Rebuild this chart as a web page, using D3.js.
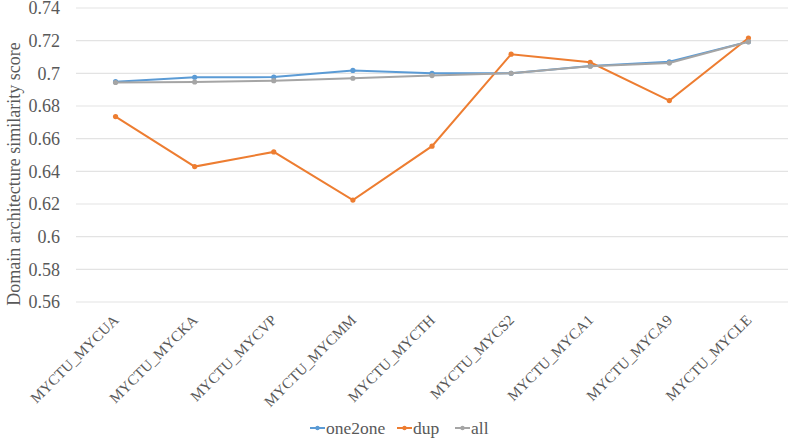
<!DOCTYPE html>
<html>
<head>
<meta charset="utf-8">
<script src="https://cdn.jsdelivr.net/npm/d3@7"></script>
<style>
  body { margin: 0; background: #fff; }
  svg text { font-family: "Liberation Serif", "Times New Roman", serif; fill: #595959; }
</style>
</head>
<body>
<div id="chart"></div>
<script>
var categories = ["MYCTU_MYCUA", "MYCTU_MYCKA", "MYCTU_MYCVP", "MYCTU_MYCMM", "MYCTU_MYCTH",
    "MYCTU_MYCS2", "MYCTU_MYCA1", "MYCTU_MYCA9", "MYCTU_MYCLE"];
var one2one = [0.6949, 0.6976, 0.6977, 0.7018, 0.7000, 0.7000, 0.7045, 0.7071, 0.7194];
var dup = [0.6735, 0.6429, 0.6519, 0.6224, 0.6554, 0.7117, 0.7068, 0.6833, 0.7216];
var all = [0.6944, 0.6947, 0.6955, 0.6970, 0.6986, 0.7000, 0.7044, 0.7063, 0.7193];
var yTicks = [0.56, 0.58, 0.6, 0.62, 0.64, 0.66, 0.68, 0.7, 0.72, 0.74];

var series = [
    { name: "one2one", values: one2one, color: "#5B9BD5" },
    { name: "dup", values: dup, color: "#ED7D31" },
    { name: "all", values: all, color: "#A5A5A5" }
];

var width = 790, height = 441;
var plotLeft = 76, plotRight = 788, plotTop = 8, plotBottom = 302;

var svg = d3.select("#chart").append("svg")
    .attr("width", width)
    .attr("height", height);

var x = d3.scaleBand().domain(categories).range([plotLeft, plotRight]);
var y = d3.scaleLinear().domain([0.56, 0.74]).range([plotBottom, plotTop]);

// gridlines
svg.append("g").selectAll("line")
    .data(yTicks)
    .enter().append("line")
    .attr("x1", plotLeft).attr("x2", plotRight)
    .attr("y1", function(d) { return y(d); })
    .attr("y2", function(d) { return y(d); })
    .attr("stroke", "#e3e3e3")
    .attr("stroke-width", 1.2);

// y tick labels
svg.append("g").selectAll("text")
    .data(yTicks)
    .enter().append("text")
    .attr("x", 60)
    .attr("y", function(d) { return y(d); })
    .attr("dy", "0.35em")
    .attr("text-anchor", "end")
    .style("font-size", "18px")
    .text(function(d) { return d3.format("")(d); });

// y axis title
svg.append("text")
    .attr("transform", "translate(14,174)rotate(-90)")
    .attr("text-anchor", "middle")
    .attr("dy", "0.35em")
    .style("font-size", "18px")
    .text("Domain architecture similarity score");

// x labels
svg.append("g").selectAll("text")
    .data(categories)
    .enter().append("text")
    .attr("transform", function(d) {
        return "translate(" + (x(d) + x.bandwidth() / 2 + 4) + "," + (plotBottom + 19) + ")rotate(-45)";
    })
    .attr("text-anchor", "end")
    .style("font-size", "15px")
    .text(function(d) { return d; });

var line = d3.line()
    .x(function(d, i) { return x(categories[i]) + x.bandwidth() / 2; })
    .y(function(d) { return y(d); });

series.forEach(function(s) {
    var g = svg.append("g");
    g.append("path")
        .attr("d", line(s.values))
        .attr("fill", "none")
        .attr("stroke", s.color)
        .attr("stroke-width", 2);
    g.selectAll("circle")
        .data(s.values)
        .enter().append("circle")
        .attr("cx", function(d, i) { return x(categories[i]) + x.bandwidth() / 2; })
        .attr("cy", function(d) { return y(d); })
        .attr("r", 2.6)
        .attr("fill", s.color);
});

// legend
var legendPos = [310, 397, 455];
var legend = svg.append("g").selectAll("g")
    .data(series)
    .enter().append("g")
    .attr("transform", function(d, i) { return "translate(" + legendPos[i] + ",428)"; });
legend.append("line")
    .attr("x1", 0).attr("x2", 15)
    .attr("stroke", function(d) { return d.color; })
    .attr("stroke-width", 2);
legend.append("circle")
    .attr("cx", 7.5).attr("r", 2.2)
    .attr("fill", function(d) { return d.color; });
legend.append("text")
    .attr("x", 16)
    .attr("dy", "0.35em")
    .style("font-size", "17.5px")
    .text(function(d) { return d.name; });
</script>
</body>
</html>
